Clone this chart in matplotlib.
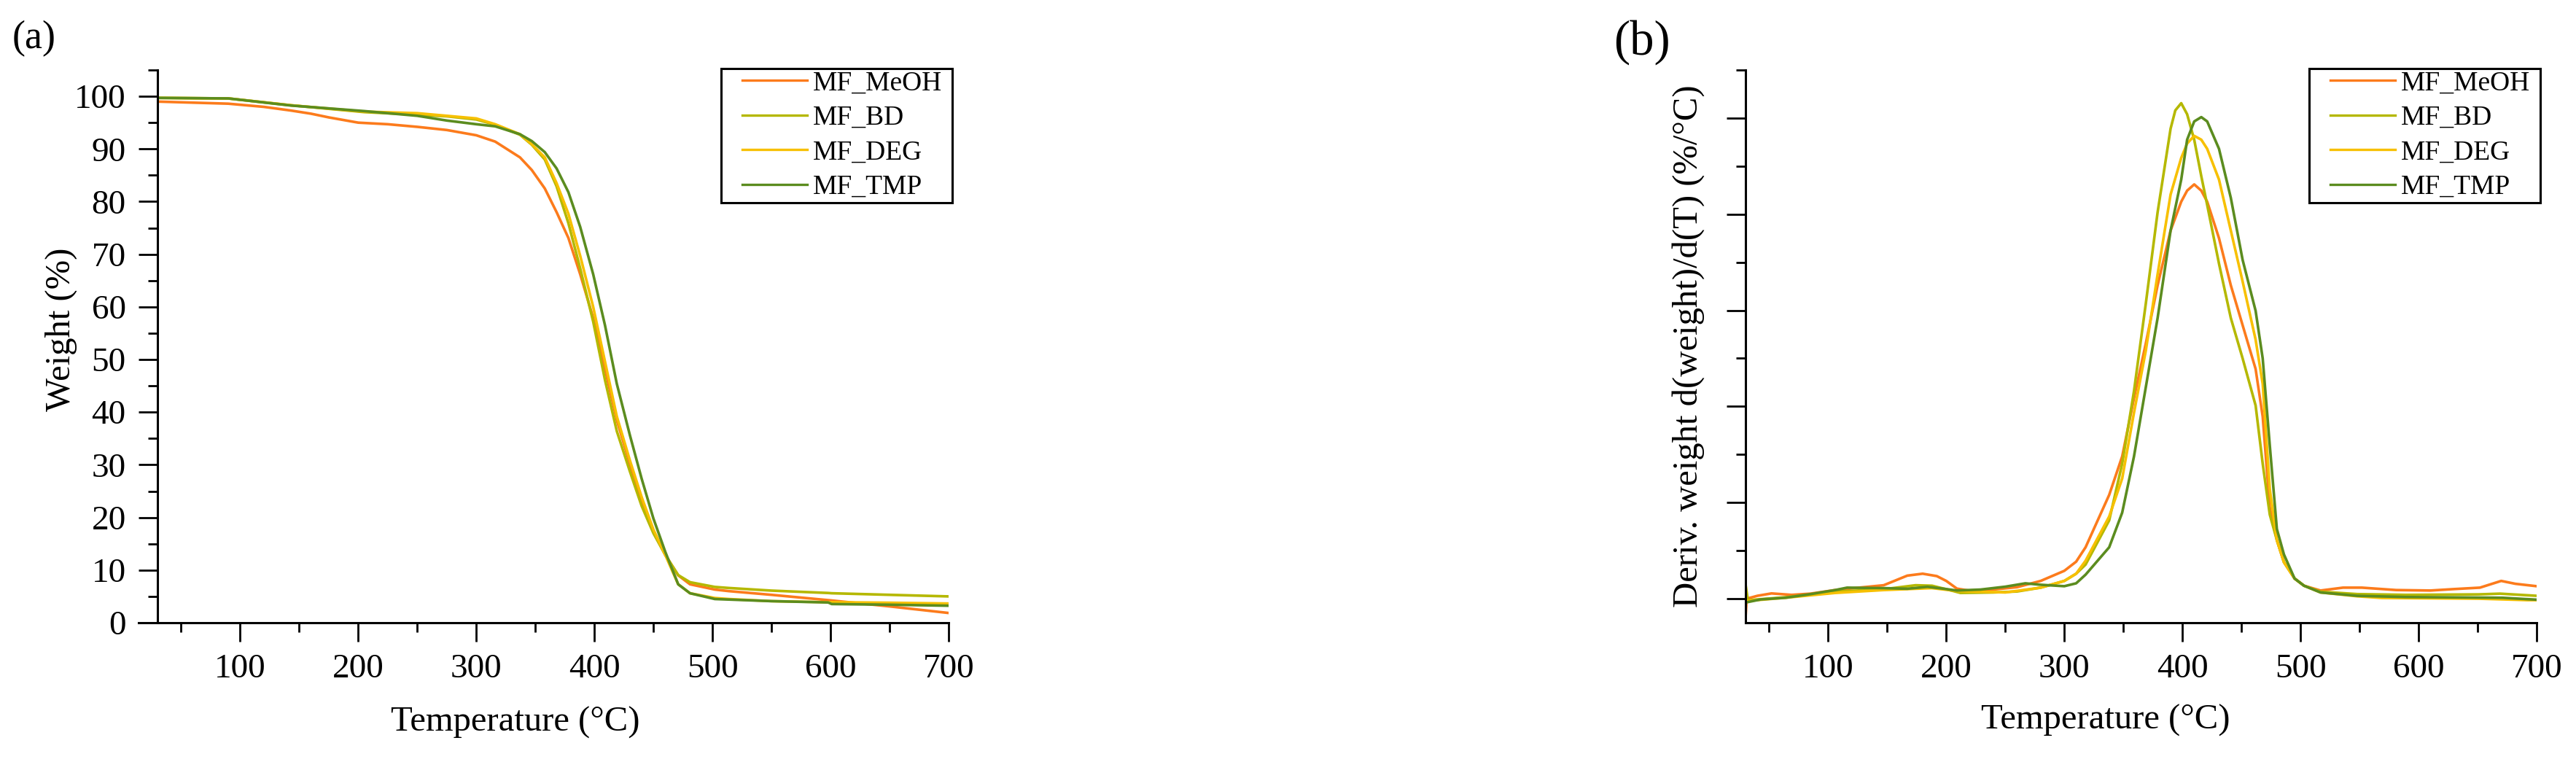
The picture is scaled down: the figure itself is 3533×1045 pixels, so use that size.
import matplotlib
matplotlib.use("Agg")
import matplotlib.pyplot as plt
from matplotlib.patches import Rectangle
from matplotlib.ticker import MultipleLocator, NullFormatter

plt.rcParams["font.family"] = ["Liberation Serif", "DejaVu Serif"]

names = ["MF_MeOH", "MF_BD", "MF_DEG", "MF_TMP"]
colors = ["#FC7B1C", "#B5B800", "#F7C000", "#5B8C1F"]

# --- TGA: weight (%) vs temperature (C) ---
tga_T_meoh = [30, 60, 90, 120, 143, 160, 175, 190, 200, 225, 250, 275, 300, 316,
              337, 347, 358, 368, 378, 388, 399, 409, 419, 430, 440, 450, 460,
              471, 481, 502, 514, 550, 600, 650, 700]
tga_W_meoh = [99.0, 98.8, 98.6, 98.0, 97.3, 96.7, 96.0, 95.4, 95.0, 94.7, 94.2,
              93.6, 92.6, 91.4, 88.4, 86.0, 82.5, 78.0, 73.1, 66.2, 57.9, 48.2,
              38.5, 30.2, 23.3, 17.4, 12.9, 9.0, 7.3, 6.3, 6.0, 5.3, 4.25, 3.1, 1.85]

tga_T = [30, 90, 143, 205, 250, 275, 300, 316, 337, 347, 358, 368, 378, 388, 399,
         409, 419, 430, 440, 450, 460, 471, 481, 502, 514, 550, 598, 601, 650, 700]
tga_W_bd = [99.7, 99.6, 98.3, 97.0, 96.5, 96.2, 95.6, 94.6, 92.7, 90.8, 88.0, 82.9,
            75.9, 67.3, 57.2, 46.1, 36.4, 28.8, 22.2, 17.0, 12.9, 9.05, 7.7, 6.8,
            6.6, 6.1, 5.65, 5.6, 5.3, 5.0]
tga_W_deg = [99.7, 99.6, 98.3, 97.1, 96.8, 96.3, 95.8, 94.7, 92.8, 90.9, 88.4, 83.5,
             77.7, 69.7, 60.0, 49.6, 39.2, 30.9, 23.9, 17.7, 12.9, 7.3, 5.6, 4.7,
             4.5, 4.1, 3.9, 3.9, 3.8, 3.65]
tga_W_tmp = [99.7, 99.6, 98.25, 97.2, 96.3, 95.4, 94.7, 94.3, 92.8, 91.5, 89.4, 86.3,
             81.8, 75.2, 66.2, 56.5, 45.4, 35.7, 27.4, 19.8, 13.5, 7.3, 5.6, 4.5,
             4.4, 4.1, 3.85, 3.55, 3.42, 3.23]

# --- DTG: deriv. weight (%/C) vs temperature (C) ---
dtg_T_meoh = [30, 31, 40, 52, 69, 85, 106, 126, 147, 157, 167, 180, 192, 200, 209,
              219, 240, 260, 280, 300, 310, 318, 338, 349, 359, 369, 379, 390, 399,
              404, 410, 416, 421, 431, 441, 451, 462, 468, 474, 480, 486, 495, 503,
              517, 536, 552, 581, 610, 630, 652, 661, 670, 682, 700]
dtg_D_meoh = [-0.04, 0.0, 0.006, 0.011, 0.008, 0.0105, 0.018, 0.023, 0.028, 0.038,
              0.048, 0.052, 0.047, 0.037, 0.021, 0.017, 0.019, 0.024, 0.037, 0.058,
              0.077, 0.107, 0.216, 0.296, 0.417, 0.531, 0.652, 0.766, 0.826, 0.849,
              0.862, 0.849, 0.826, 0.75, 0.652, 0.569, 0.478, 0.379, 0.19, 0.122,
              0.076, 0.042, 0.027, 0.017, 0.023, 0.023, 0.018, 0.017, 0.020, 0.023,
              0.030, 0.037, 0.031, 0.026]

dtg_T_bd = [30, 32, 64, 106, 147, 174, 188, 200, 212, 240, 260, 280, 300, 310, 318,
            338, 349, 359, 369, 379, 390, 394, 399, 404, 410, 416, 421, 431, 441, 451,
            462, 468, 474, 480, 486, 495, 503, 517, 548, 589, 651, 669, 700]
dtg_D_bd = [0.030, -0.003, 0.003, 0.0146, 0.0197, 0.028, 0.027, 0.0197, 0.012,
            0.013, 0.015, 0.023, 0.037, 0.052, 0.071, 0.163, 0.281, 0.432, 0.614,
            0.804, 0.978, 1.016, 1.031, 1.008, 0.955, 0.879, 0.819, 0.697, 0.584,
            0.500, 0.402, 0.281, 0.175, 0.122, 0.076, 0.042, 0.027, 0.0146, 0.0096,
            0.008, 0.009, 0.0105, 0.006]

dtg_T_deg = [30, 64, 106, 147, 188, 209, 250, 280, 300, 310, 318, 338, 349, 359,
             369, 379, 390, 399, 404, 410, 416, 421, 431, 441, 451, 462, 468, 474,
             480, 486, 495, 503, 517, 548, 569, 651, 692, 700]
dtg_D_deg = [-0.005, 0.002, 0.012, 0.018, 0.022, 0.016, 0.013, 0.023, 0.037, 0.052,
             0.079, 0.171, 0.250, 0.387, 0.516, 0.675, 0.841, 0.917, 0.947, 0.963,
             0.955, 0.936, 0.872, 0.766, 0.660, 0.539, 0.447, 0.228, 0.122, 0.076,
             0.042, 0.027, 0.013, 0.005, 0.0015, 0.0, -0.003, -0.003]

dtg_T_tmp = [30, 43, 64, 85, 106, 116, 147, 167, 184, 198, 209, 229, 250, 267, 280,
             300, 310, 318, 338, 349, 359, 369, 379, 390, 399, 404, 410, 416, 421,
             431, 441, 451, 462, 468, 474, 480, 486, 495, 503, 517, 548, 589, 671, 700]
dtg_D_tmp = [-0.008, -0.0015, 0.002, 0.0095, 0.018, 0.023, 0.022, 0.0207, 0.0247,
             0.0207, 0.017, 0.019, 0.025, 0.032, 0.029, 0.026, 0.032, 0.050, 0.107,
             0.179, 0.296, 0.440, 0.584, 0.766, 0.872, 0.955, 0.993, 1.002, 0.993,
             0.936, 0.834, 0.705, 0.599, 0.500, 0.319, 0.145, 0.092, 0.042, 0.027,
             0.013, 0.006, 0.0035, 0.002, -0.002]

tga_series = [(tga_T_meoh, tga_W_meoh), (tga_T, tga_W_bd), (tga_T, tga_W_deg),
              (tga_T, tga_W_tmp)]
dtg_series = [(dtg_T_meoh, dtg_D_meoh), (dtg_T_bd, dtg_D_bd),
              (dtg_T_deg, dtg_D_deg), (dtg_T_tmp, dtg_D_tmp)]

W, H = 3533, 1045
fig = plt.figure(figsize=(W / 100, H / 100), dpi=100)

ax_w = (1301 - 216) / W
ax_h = (854 - 96) / H
ax_b = (H - 854) / H
ax1 = fig.add_axes([216 / W, ax_b, ax_w, ax_h])
ax2 = fig.add_axes([2394 / W, ax_b, ax_w, ax_h])


def styleAxis(ax):
    for s in ["top", "right"]:
        ax.spines[s].set_visible(False)
    for s in ["left", "bottom"]:
        ax.spines[s].set_linewidth(2.2)
    ax.tick_params(which="major", direction="out", length=18.7, width=2.0,
                   labelsize=34)
    ax.tick_params(which="minor", direction="out", length=9.7, width=2.0)
    ax.tick_params(axis="x", which="major", pad=12)
    ax.tick_params(axis="y", which="major", pad=12.5)
    ax.xaxis.set_major_locator(MultipleLocator(100))
    ax.xaxis.set_minor_locator(MultipleLocator(50))
    ax.set_xlim(30, 700)


def addLegend(ax):
    leg = ax.legend(loc="upper left", bbox_to_anchor=(0.739, 0.9987),
                    borderaxespad=0, borderpad=0, frameon=False, fontsize=27,
                    handlelength=2.37, handletextpad=0.21, labelspacing=0.345)
    for ln in leg.get_lines():
        ln.set_linewidth(2.4)
    ax.add_patch(Rectangle((0.7124, 0.760), 0.2922, 0.2426, transform=ax.transAxes,
                           fill=False, lw=2.2, ec="black", clip_on=False))


# (a) TGA
for (t, w), name, c in zip(tga_series, names, colors):
    ax1.plot(t, w, color=c, lw=2.6, label=name)
styleAxis(ax1)
ax1.set_ylim(0, 105)
ax1.yaxis.set_major_locator(MultipleLocator(10))
ax1.yaxis.set_minor_locator(MultipleLocator(5))
ax1.spines["bottom"].set_bounds(14, 700)
ax1.set_xlabel("Temperature (°C)", fontsize=35)
ax1.set_ylabel("Weight (%)", fontsize=35)
ax1.xaxis.set_label_coords(0.4525, -0.152)
ax1.yaxis.set_label_coords(-0.101, 0.53)
addLegend(ax1)

# (b) DTG
for (t, d), name, c in zip(dtg_series, names, colors):
    ax2.plot(t, d, color=c, lw=2.6, label=name)
styleAxis(ax2)
ax2.set_ylim(-0.05, 1.1)
ax2.yaxis.set_major_locator(MultipleLocator(0.2))
ax2.yaxis.set_minor_locator(MultipleLocator(0.1))
ax2.yaxis.set_major_formatter(NullFormatter())
ax2.set_xlabel("Temperature (°C)", fontsize=35)
ax2.set_ylabel("Deriv. weight d(weight)/d(T) (%/°C)", fontsize=35)
ax2.xaxis.set_label_coords(0.455, -0.147)
ax2.yaxis.set_label_coords(-0.0516, 0.5)
addLegend(ax2)

fig.text(17 / W, 1 - 66 / H, "(a)", fontsize=39, va="baseline", ha="left")
fig.text(2213 / W, 1 - 75 / H, "(b)", fontsize=48, va="baseline", ha="left")

fig.savefig("out.png", dpi=100)
